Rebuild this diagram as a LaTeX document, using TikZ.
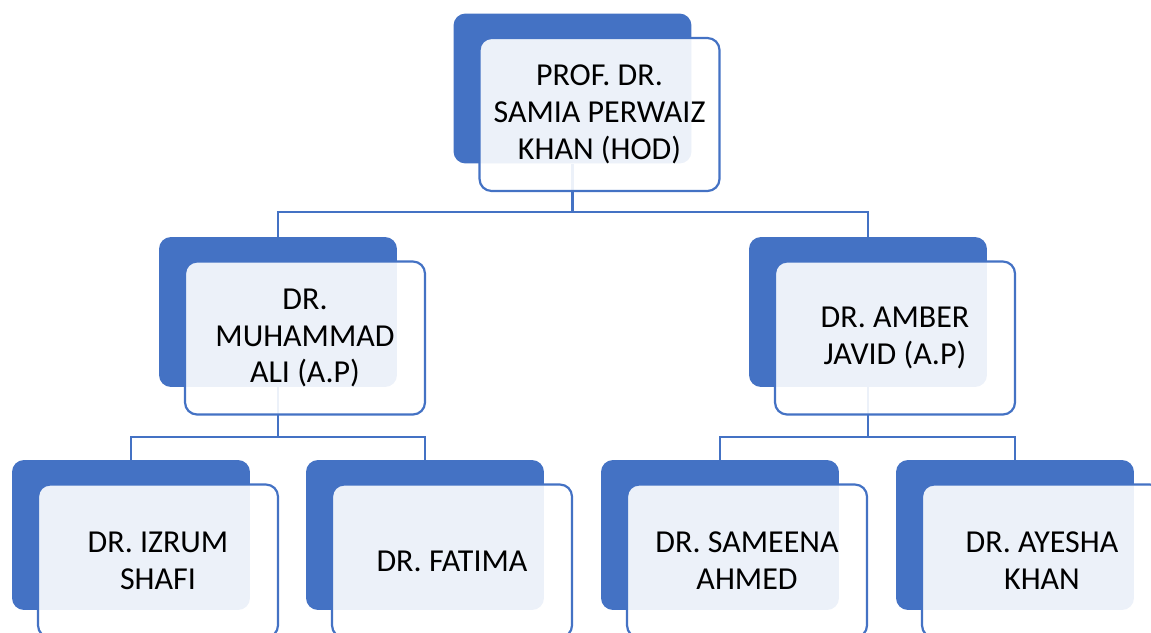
\documentclass[tikz,border=0pt]{standalone}
\usepackage{fontspec}
\setmainfont{Carlito}
\definecolor{orgblue}{HTML}{4472C4}

\begin{document}
\begin{tikzpicture}[x=0.02cm,y=-0.02cm,
    back/.style={rectangle,rounded corners=0.24cm,fill=orgblue,minimum width=4.76cm,minimum height=3cm,inner sep=0pt},
    front/.style={rectangle,rounded corners=0.24cm,draw=orgblue,line width=1.25pt,fill=white,fill opacity=0.9,text opacity=1,
        minimum width=4.8cm,minimum height=3.06cm,inner sep=0pt,align=center,font=\fontsize{18.2}{21}\selectfont},
    link/.style={draw=orgblue,line width=1.25pt}]
        \clip (0,0) rectangle (1151,632);
        % back boxes
        \node[back] (hodb) at (572.5,88.5) {};
        \node[back] (alib) at (278,312) {};
        \node[back] (amberb) at (868,312) {};
        \node[back] (izrumb) at (131,535) {};
        \node[back] (fatimab) at (425,535) {};
        \node[back] (sameenab) at (720,535) {};
        \node[back] (ayeshab) at (1015,535) {};
        % connectors
        \coordinate (bar1) at (0,212);
        \coordinate (bar2) at (0,437);
        \draw[link] (hodb.south) -- (hodb.south |- bar1) -| (alib.north);
        \draw[link] (hodb.south |- bar1) -| (amberb.north);
        \draw[link] (alib.south) -- (alib.south |- bar2) -| (izrumb.north);
        \draw[link] (alib.south |- bar2) -| (fatimab.north);
        \draw[link] (amberb.south) -- (amberb.south |- bar2) -| (sameenab.north);
        \draw[link] (amberb.south |- bar2) -| (ayeshab.north);
        % front boxes
        \node[front] (hod) at (599.5,114.5) {PROF. DR.\\SAMIA PERWAIZ\\KHAN (HOD)};
        \node[front] (ali) at (305,338) {DR.\\MUHAMMAD\\ALI (A.P)};
        \node[front] (amber) at (895,338) {DR. AMBER\\JAVID (A.P)};
        \node[front] (izrum) at (158,561) {DR. IZRUM\\SHAFI};
        \node[front] (fatima) at (452,561) {DR. FATIMA};
        \node[front] (sameena) at (747,561) {DR. SAMEENA\\AHMED};
        \node[front] (ayesha) at (1042,561) {DR. AYESHA\\KHAN};
    \end{tikzpicture}
\end{document}
